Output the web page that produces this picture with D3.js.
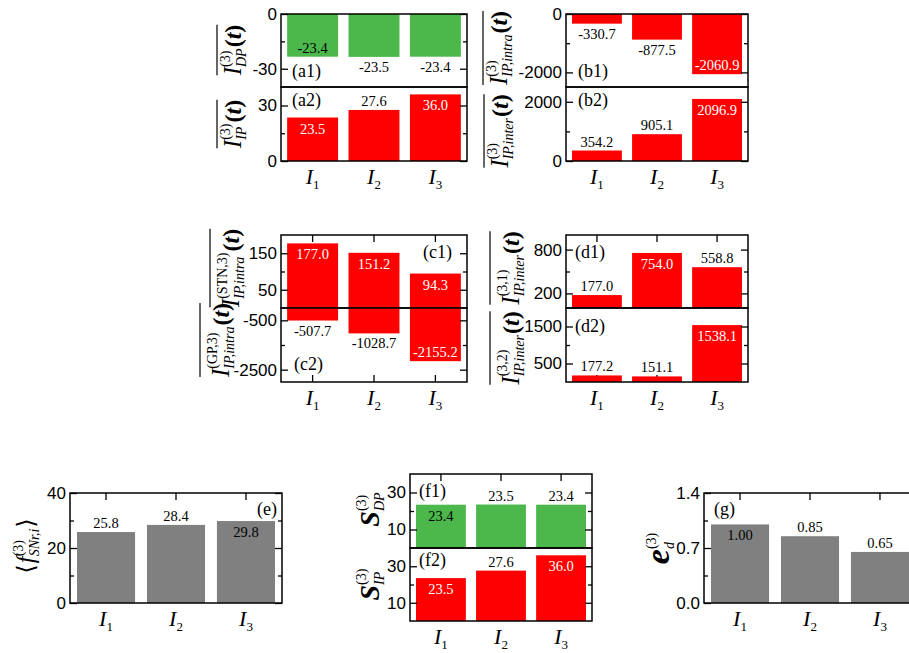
<!DOCTYPE html>
<html>
<head>
<meta charset="utf-8">
<script src="https://cdn.jsdelivr.net/npm/d3@7"></script>
<style>
  body { margin: 0; background: #fff; }
  svg { display: block; }
</style>
</head>
<body>
<svg width="909" height="653"></svg>
<script>

// category subscripts (I_1, I_2, I_3)
var cats = ["1", "2", "3"];

// bar values
var dpMean   = [-23.4, -23.5, -23.4];
var ipMean   = [23.5, 27.6, 36.0];
var ipIntra  = [-330.7, -877.5, -2060.9];
var ipInter  = [354.2, 905.1, 2096.9];
var stnIntra = [177.0, 151.2, 94.3];
var gpIntra  = [-507.7, -1028.7, -2155.2];
var inter31  = [177.0, 754.0, 558.8];
var inter32  = [177.2, 151.1, 1538.1];
var fSNr     = [25.8, 28.4, 29.8];
var sDP      = [23.4, 23.5, 23.4];
var sIP      = [23.5, 27.6, 36.0];
var eD       = [1.00, 0.85, 0.65];

var RED = "#ff0000", GREEN = "#4cb84c", GRAY = "#808080";
var SERIF = "'Liberation Serif','Times New Roman',serif";
var SANS = "'Liberation Sans',Arial,sans-serif";

var svg = d3.select("svg");
svg.append("rect").attr("width", 909).attr("height", 653).attr("fill", "#fff");

var panels = [
  {vals: dpMean, color: GREEN, xr: [281, 467], yr: [14, 87], dom: [-40, 0], major: [-30, 0], minor: [-15], inside: [0], tag: "(a1)", tx: 292, ty: 77, top: true},
  {vals: ipMean, color: RED, xr: [281, 467], yr: [87, 161], dom: [0, 40], major: [0, 30], minor: [15], inside: [0, 2], tag: "(a2)", tx: 292, ty: 106, bottom: true},
  {vals: ipIntra, color: RED, xr: [566, 748], yr: [14, 87], dom: [-2500, 0], major: [-2000, 0], minor: [-1000], inside: [2], tag: "(b1)", tx: 578, ty: 77, top: true},
  {vals: ipInter, color: RED, xr: [566, 748], yr: [87, 161], dom: [0, 2500], major: [0, 2000], minor: [1000], inside: [2], tag: "(b2)", tx: 578, ty: 106, bottom: true},
  {vals: stnIntra, color: RED, xr: [281, 467], yr: [235, 308], dom: [0, 200], major: [50, 150], minor: [100], inside: [0, 1, 2], tag: "(c1)", tx: 452, ty: 258, anchor: "end", top: true},
  {vals: gpIntra, color: RED, xr: [281, 467], yr: [308, 382], dom: [-3000, 0], major: [-2500, -500], minor: [-1500], inside: [2], tag: "(c2)", tx: 294, ty: 370, bottom: true},
  {vals: inter31, color: RED, xr: [566, 748], yr: [235, 308], dom: [0, 1000], major: [200, 800], minor: [500], inside: [1], tag: "(d1)", tx: 575, ty: 258, top: true},
  {vals: inter32, color: RED, xr: [566, 748], yr: [308, 382], dom: [0, 2000], major: [500, 1500], minor: [1000], inside: [2], tag: "(d2)", tx: 575, ty: 332, bottom: true},
  {vals: fSNr, color: GRAY, xr: [70, 282], yr: [493, 603], dom: [0, 40], major: [0, 20, 40], minor: [10, 30], inside: [2], tag: "(e)", tx: 277, ty: 515, anchor: "end", top: true, bottom: true},
  {vals: sDP, color: GREEN, xr: [410, 592], yr: [474, 548], dom: [0, 40], major: [10, 30], minor: [20], inside: [0], tag: "(f1)", tx: 419, ty: 497, top: true},
  {vals: sIP, color: RED, xr: [410, 592], yr: [548, 621], dom: [0, 40], major: [10, 30], minor: [20], inside: [0, 2], tag: "(f2)", tx: 419, ty: 566, bottom: true},
  {vals: eD, color: GRAY, xr: [704, 916], yr: [493, 603], dom: [0, 1.4], major: [0, 0.7, 1.4], minor: [0.35, 1.05], inside: [0], tag: "(g)", tx: 714, ty: 515, top: true, bottom: true, dec: 2, tdec: 1}
];

panels.forEach(function(p) {
  var x = d3.scaleBand().domain(cats).range(p.xr).paddingInner(0.17).paddingOuter(0.1);
  var y = d3.scaleLinear().domain(p.dom).range([p.yr[1], p.yr[0]]);
  var g = svg.append("g");

  // x ticks go under the bars
  if (p.top) {
    g.append("g").attr("transform", "translate(0," + p.yr[0] + ")")
      .call(d3.axisTop(x).tickSize(-7).tickFormat(""));
  }
  if (p.bottom) {
    g.append("g").attr("transform", "translate(0," + p.yr[1] + ")")
      .call(d3.axisBottom(x).tickSize(-7).tickFormat(""));
    g.append("g").selectAll("text").data(cats).enter().append("text")
      .attr("x", function(d) { return x(d) + x.bandwidth() / 2; })
      .attr("y", p.yr[1] + 23)
      .attr("text-anchor", "middle")
      .style("font-family", SERIF)
      .each(function(d) {
        var t = d3.select(this);
        t.append("tspan").style("font-style", "italic").style("font-size", "22px").text("I");
        t.append("tspan").attr("dy", 5).style("font-size", "13px").text(d);
      });
  }

  g.selectAll(".bar").data(p.vals).enter().append("rect")
    .attr("x", function(d, i) { return x(cats[i]); })
    .attr("width", x.bandwidth())
    .attr("y", function(d) { return Math.min(y(0), y(d)); })
    .attr("height", function(d) { return Math.abs(y(d) - y(0)); })
    .attr("fill", p.color);

  // value labels
  g.selectAll(".val").data(p.vals).enter().append("text")
    .attr("x", function(d, i) { return x(cats[i]) + x.bandwidth() / 2; })
    .attr("y", function(d, i) {
      var ins = p.inside.indexOf(i) >= 0;
      if (d >= 0) return ins ? y(d) + 16 : y(d) - 4;
      return ins ? y(d) - 4 : y(d) + 15;
    })
    .attr("text-anchor", "middle")
    .style("font-family", SERIF).style("font-size", "14.5px")
    .attr("fill", function(d, i) {
      return (p.inside.indexOf(i) >= 0 && p.color === RED) ? "#fff" : "#000";
    })
    .text(function(d) { return d.toFixed(p.dec || 1); });

  // frame
  g.append("rect")
    .attr("x", p.xr[0]).attr("y", p.yr[0])
    .attr("width", p.xr[1] - p.xr[0]).attr("height", p.yr[1] - p.yr[0])
    .attr("fill", "none").attr("stroke", "#000").attr("stroke-width", 1.5);

  var fmt = function(d) { return p.tdec ? d.toFixed(p.tdec) : String(d); };
  var yl = g.append("g").attr("transform", "translate(" + p.xr[0] + ",0)")
    .call(d3.axisLeft(y).tickValues(p.major).tickSize(-7).tickPadding(4).tickFormat(fmt));
  yl.selectAll("text").style("font-family", SANS).style("font-size", "17px").attr("fill", "#000");
  g.append("g").attr("transform", "translate(" + p.xr[0] + ",0)")
    .call(d3.axisLeft(y).tickValues(p.minor).tickSize(-4).tickFormat(""));
  g.append("g").attr("transform", "translate(" + p.xr[1] + ",0)")
    .call(d3.axisRight(y).tickValues(p.major).tickSize(-7).tickFormat(""));
  g.append("g").attr("transform", "translate(" + p.xr[1] + ",0)")
    .call(d3.axisRight(y).tickValues(p.minor).tickSize(-4).tickFormat(""));

  g.selectAll(".domain").remove();
  g.selectAll(".tick line").attr("stroke", "#000").attr("stroke-width", 1.3);

  g.append("text")
    .attr("x", p.tx).attr("y", p.ty)
    .attr("text-anchor", p.anchor || "start")
    .style("font-family", SERIF).style("font-size", "18px")
    .text(p.tag);
});

// rotated axis titles built from pieces so sup/sub stack
function yLabel(cx, cy, L) {
  var g = svg.append("g").attr("transform", "translate(" + cx + "," + cy + ") rotate(-90)");
  var inner = g.append("g");
  var pos = 0;
  function put(txt, size, style, weight, dy) {
    var t = inner.append("text").attr("x", pos).attr("y", dy)
      .style("font-family", SERIF + ",'DejaVu Serif'").style("font-size", size + "px")
      .style("font-style", style).style("font-weight", weight).text(txt);
    return t.node().getComputedTextLength();
  }
  if (L.pre) pos += put(L.pre, 24, "normal", "normal", 0) + 1;
  pos += put(L.base, L.size || 25, "italic", L.weight || "normal", 0);
  var w1 = put(L.sup, 14, "normal", "normal", L.supDy || -11);
  var w2 = put(L.sub, 14, "italic", "normal", 5);
  pos += Math.max(w1, w2) + 1;
  if (L.tail) {
    pos += put("(", 24, "normal", "bold", 0);
    pos += put("t", 24, "italic", "bold", 0);
    pos += put(")", 24, "normal", "bold", 0);
  }
  if (L.post) pos += put(L.post, 24, "normal", "normal", 0);
  inner.attr("transform", "translate(" + (-pos / 2) + ",0)");
  if (L.bar) {
    var bb = inner.node().getBBox();
    var yb = bb.y - (L.gap || 1);
    g.append("line").attr("x1", -pos / 2).attr("x2", pos / 2)
      .attr("y1", yb).attr("y2", yb).attr("stroke", "#000").attr("stroke-width", 1.2);
  }
}

yLabel(241, 50, {base: "I", sup: "(3)", sub: "DP", tail: true, bar: true});
yLabel(241, 124, {base: "I", sup: "(3)", sub: "IP", tail: true, bar: true});
yLabel(507, 48, {base: "I", sup: "(3)", sub: "IP,intra", tail: true, bar: true});
yLabel(508, 131, {base: "I", sup: "(3)", sub: "IP,inter", tail: true, bar: true});
yLabel(239, 268, {base: "I", sup: "(STN,3)", sub: "IP,intra", tail: true, bar: true, supDy: -12, gap: 5});
yLabel(229, 340, {base: "I", sup: "(GP,3)", sub: "IP,intra", tail: true, bar: true, supDy: -12, gap: 5});
yLabel(519, 268, {base: "I", sup: "(3,1)", sub: "IP,inter", tail: true, bar: true, supDy: -12, gap: 5});
yLabel(519, 348, {base: "I", sup: "(3,2)", sub: "IP,inter", tail: true, bar: true, supDy: -12, gap: 5});
yLabel(34, 546, {pre: "\u27E8", base: "f", sup: "(3)", sub: "SNr,i", post: "\u27E9"});
yLabel(379, 509, {base: "S", size: 28, weight: "bold", sup: "(3)", sub: "DP", supDy: -13});
yLabel(379, 584, {base: "S", size: 28, weight: "bold", sup: "(3)", sub: "IP", supDy: -13});
yLabel(669, 548, {base: "e", size: 34, weight: "bold", sup: "(3)", sub: "d", supDy: -13});

</script>
</body>
</html>
